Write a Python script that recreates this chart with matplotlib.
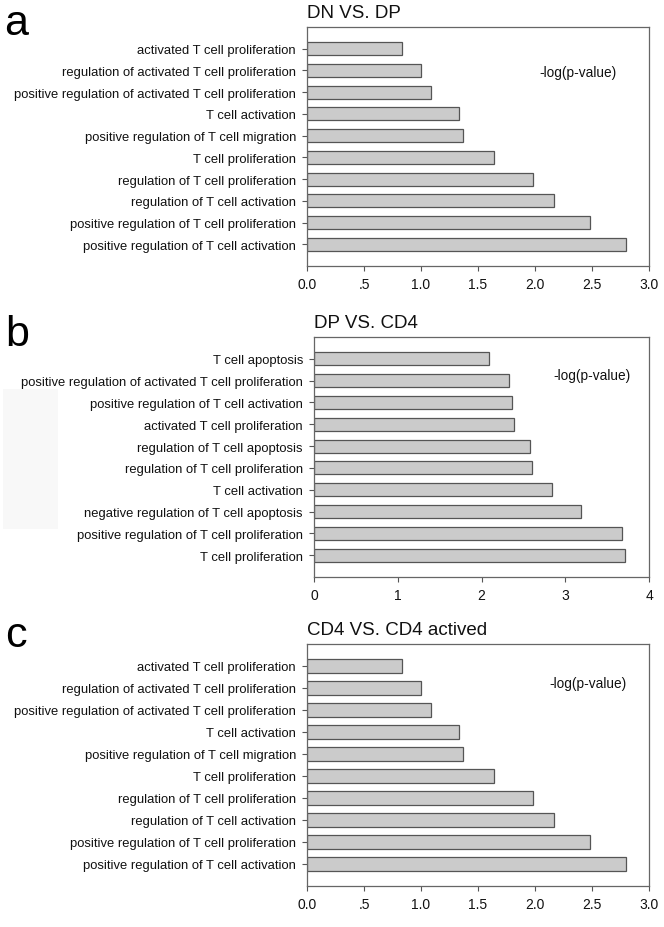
import numpy as np
import matplotlib
matplotlib.use("Agg")
from matplotlib import pyplot as plt
from matplotlib.patches import Rectangle

plt.rcParams['font.family'] = ['Liberation Sans', 'DejaVu Sans']

# Data (top bar first)
TERMS_A = ["activated T cell proliferation",
           "regulation of activated T cell proliferation",
           "positive regulation of activated T cell proliferation",
           "T cell activation",
           "positive regulation of T cell migration",
           "T cell proliferation",
           "regulation of T cell proliferation",
           "regulation of T cell activation",
           "positive regulation of T cell proliferation",
           "positive regulation of T cell activation"]
VALUES_A = [0.83, 1.00, 1.09, 1.33, 1.365, 1.64, 1.98, 2.17, 2.48, 2.80]

TERMS_B = ["T cell apoptosis",
           "positive regulation of activated T cell proliferation",
           "positive regulation of T cell activation",
           "activated T cell proliferation",
           "regulation of T cell apoptosis",
           "regulation of T cell proliferation",
           "T cell activation",
           "negative regulation of T cell apoptosis",
           "positive regulation of T cell proliferation",
           "T cell proliferation"]
VALUES_B = [2.09, 2.33, 2.36, 2.39, 2.575, 2.60, 2.84, 3.19, 3.68, 3.71]

TERMS_C = TERMS_A
VALUES_C = VALUES_A

TICKS_AC = [0, 0.5, 1.0, 1.5, 2.0, 2.5, 3.0]
TICKLABELS_AC = ["0.0", ".5", "1.0", "1.5", "2.0", "2.5", "3.0"]
TICKS_B = [0, 1, 2, 3, 4]
TICKLABELS_B = ["0", "1", "2", "3", "4"]

TITLES = ["DN VS. DP", "DP VS. CD4", "CD4 VS. CD4 actived"]
LETTERS = ["a", "b", "c"]
XLABEL = "-log(p-value)"

W, H = 664, 928
fig = plt.figure(figsize=(W / 100, H / 100), dpi=100)
fig.patch.set_facecolor("white")

# faint scan artifact on the left of panel b
fig.add_artist(Rectangle((3 / W, 1 - 530 / H), 55 / W, 140 / H,
                         transform=fig.transFigure, facecolor="#f8f8f8",
                         edgecolor="none", zorder=0))

# axes boxes in pixels: left, right, top, bottom
boxes = [(307, 649, 28, 267), (314, 649, 338, 578), (307, 649, 645, 887)]
panels = [(TERMS_A, VALUES_A, TICKS_AC, TICKLABELS_AC, (0, 3.0), (0.68, 0.81)),
          (TERMS_B, VALUES_B, TICKS_B, TICKLABELS_B, (0, 4), (0.716, 0.84)),
          (TERMS_C, VALUES_C, TICKS_AC, TICKLABELS_AC, (0, 3.0), (0.71, 0.84))]
letter_pos = [(4, 4), (5, 315), (5, 616)]

EDGE = "#555555"
for i, (terms, vals, ticks, tlabels, xlim, lpos) in enumerate(panels):
    l, r, t, b = boxes[i]
    ax = fig.add_axes([l / W, 1 - b / H, (r - l) / W, (b - t) / H])
    y = np.arange(len(terms))
    ax.barh(y, vals, height=0.6, color="#cbcbcb", edgecolor=EDGE, linewidth=0.9)
    ax.set_ylim(len(terms), -1)
    ax.set_xlim(*xlim)
    ax.set_yticks(y)
    ax.set_yticklabels(terms, fontsize=9.4, color="#111111")
    ax.set_xticks(ticks)
    ax.set_xticklabels(tlabels, fontsize=10, color="#111111")
    ax.tick_params(axis="both", direction="out", length=3.5, width=0.8,
                   color=EDGE, pad=4.5)
    for s in ax.spines.values():
        s.set_color("#666666")
        s.set_linewidth(0.9)
    ax.set_title(TITLES[i], loc="left", fontsize=13.5, pad=7, x=0.0,
                 color="#111111")
    ax.text(lpos[0], lpos[1], XLABEL, transform=ax.transAxes, fontsize=9.8,
            color="#111111", va="center", ha="left")
    fig.text(letter_pos[i][0] / W, 1 - letter_pos[i][1] / H, LETTERS[i],
             fontsize=31, va="top", ha="left", color="black")

fig.savefig("out.png", dpi=100)
